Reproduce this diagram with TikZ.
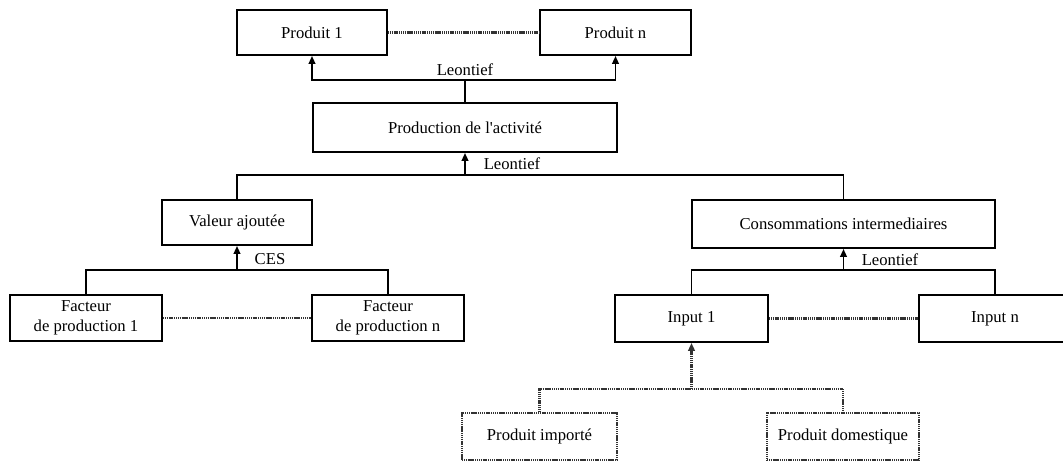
\documentclass[tikz,border=0pt]{standalone}
\usepackage{fontspec}
\setmainfont{Liberation Serif}[Ligatures=TeXOff]
\usetikzlibrary{arrows.meta}
\begin{document}
\begin{tikzpicture}[x=0.75pt,y=-0.75pt,
  font=\fontsize{12.5}{16}\selectfont,
  box/.style={draw, line width=1.4pt, rectangle, inner sep=0pt, align=center},
  dbox/.style={draw=black!80, line width=1.6pt, dash pattern=on 0.9pt off 0.5pt, rectangle, inner sep=0pt, align=center},
  link/.style={line width=1.4pt},
  dlink/.style={draw=black!80, line width=1.6pt, dash pattern=on 0.9pt off 0.5pt},
  arr/.style={-{Triangle[length=6pt,width=5pt]}},
  lbl/.style={inner sep=0pt}]
\clip (0,0) rectangle (1063,462);
\useasboundingbox (0,0) rectangle (1063,462);
% boxes
\node[box, minimum width=112.5pt, minimum height=33.75pt] (p1) at (312,32.5) {Produit 1};
\node[box, minimum width=113pt, minimum height=33.75pt] (pn) at (615.5,32.5) {Produit n};
\node[box, minimum width=228pt, minimum height=36.75pt] (prod) at (465,127.5) {Production de l'activité};
\node[box, minimum width=112.5pt, minimum height=33.75pt] (va) at (237,222.5) {Valeur ajoutée};
\node[box, minimum width=227pt, minimum height=36pt] (ci) at (843.5,224) {Consommations intermediaires};
\node[box, minimum width=114pt, minimum height=34.5pt] (f1) at (86,318) {Facteur\\[-1pt]de production 1};
\node[box, minimum width=114pt, minimum height=34.5pt] (fn) at (388,318) {Facteur\\[-1pt]de production n};
\node[box, minimum width=114.75pt, minimum height=35.25pt] (i1) at (691.5,318.5) {Input 1};
\node[box, minimum width=114pt, minimum height=35.25pt] (in) at (995,318.5) {Input n};
\node[dbox, minimum width=116.25pt, minimum height=35.25pt] (pi) at (539.5,436.5) {Produit importé};
\node[dbox, minimum width=114pt, minimum height=35.25pt] (pd) at (843,436.5) {Produit domestique};
% junction coordinates
\coordinate (j1) at (465,80);
\coordinate (j2) at (465,175);
\coordinate (j3) at (237,270);
\coordinate (j4) at (843.5,270);
\coordinate (j5) at (691.5,389);
% top level
\draw[link] (prod.north) -- (j1);
\draw[link,arr] (j1) -| (p1.south);
\draw[link,arr] (j1) -| (pn.south);
\draw[dlink] (p1.east) -- (pn.west);
\node[lbl] (l1) at (465,70) {Leontief};
% production
\draw[link,arr] (j2) -- (prod.south);
\draw[link] (va.north) |- (j2) -| (ci.north);
\node[lbl] (l2) at (512,164) {Leontief};
% valeur ajoutee
\draw[link,arr] (j3) -- (va.south);
\draw[link] (f1.north) |- (j3) -| (fn.north);
\draw[dlink] (f1.east) -- (fn.west);
\node[lbl] (l3) at (270,259) {CES};
% consommations intermediaires
\draw[link,arr] (j4) -- (ci.south);
\draw[link] (i1.north) |- (j4) -| (in.north);
\draw[dlink] (i1.east) -- (in.west);
\node[lbl] (l4) at (890,260) {Leontief};
% input 1
\draw[dlink,arr] (j5) -- (i1.south);
\draw[dlink] (pi.north) |- (j5) -| (pd.north);
\end{tikzpicture}
\end{document}
